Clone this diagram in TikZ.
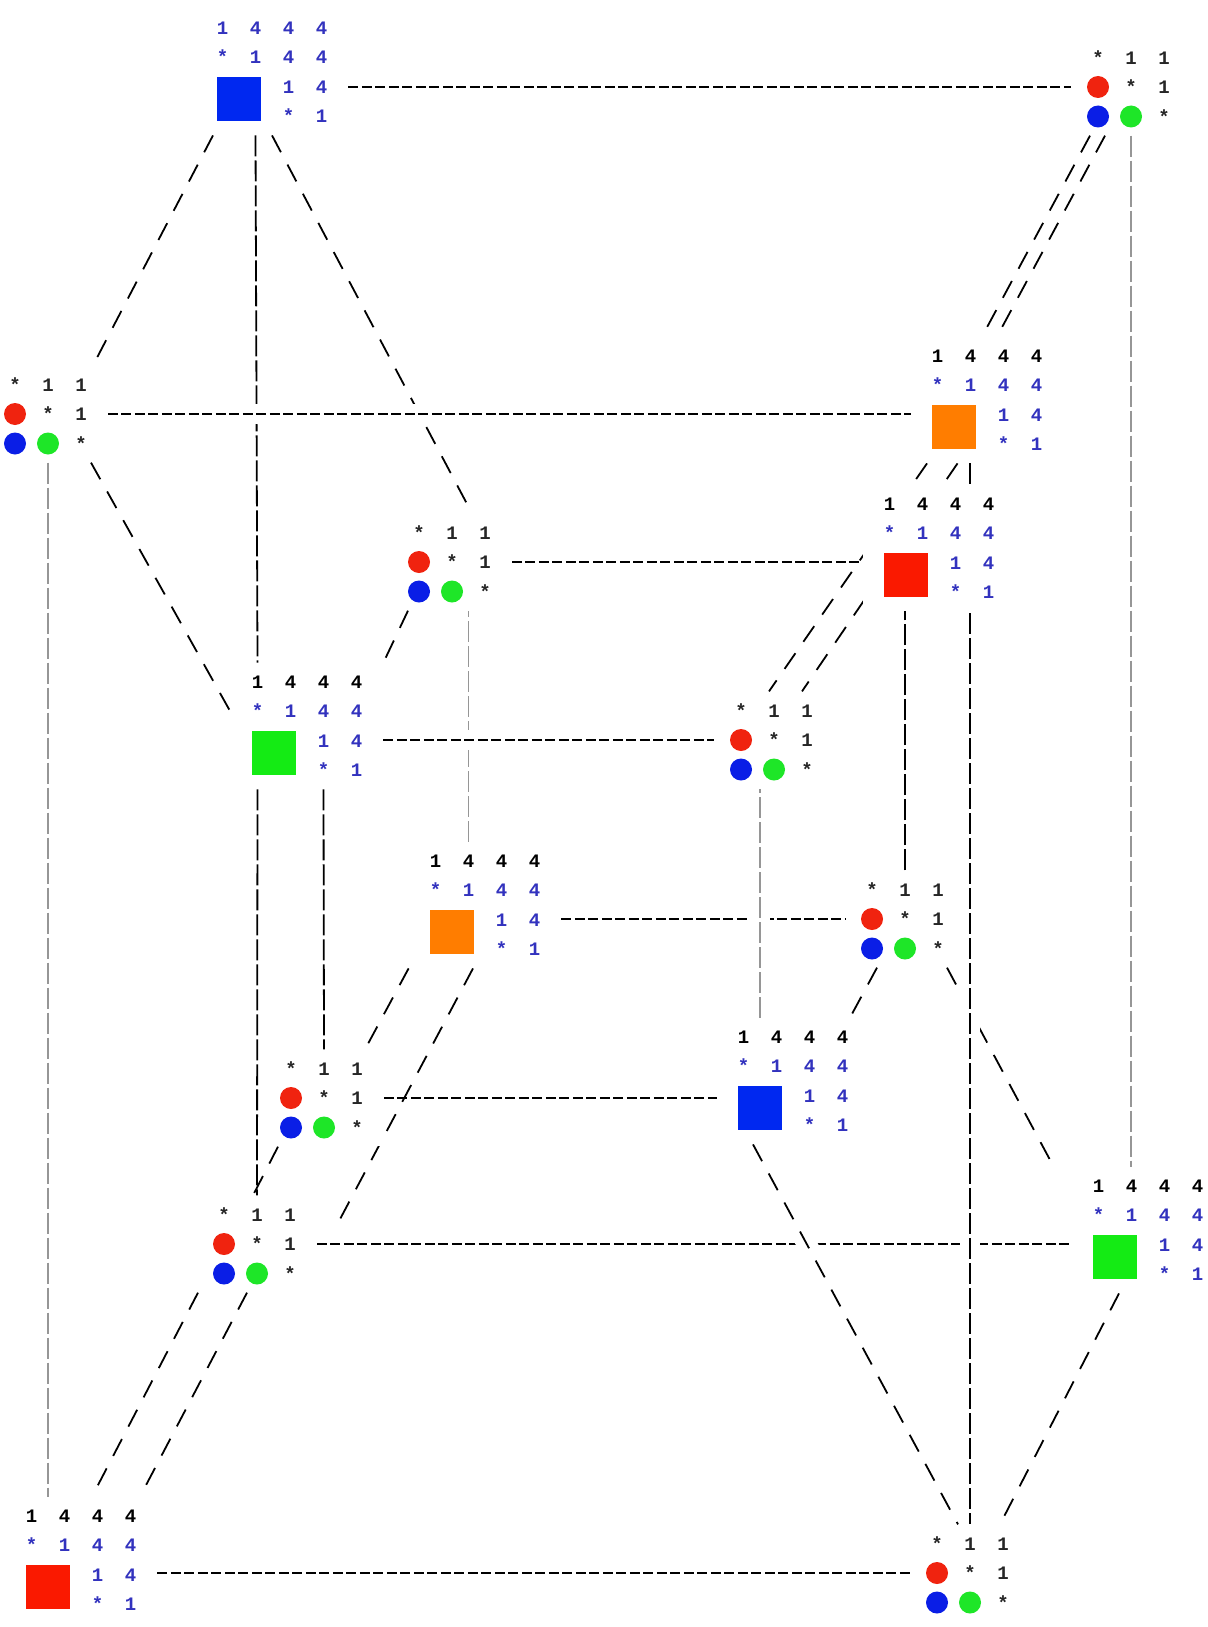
\documentclass[tikz,border=0pt]{standalone}
\usepackage{fontspec}
\setmonofont{Liberation Mono}
\usetikzlibrary{backgrounds}
\definecolor{numblue}{RGB}{50,50,190}
\definecolor{sqblue}{RGB}{0,40,240}
\definecolor{sqred}{RGB}{250,25,0}
\definecolor{sqgreen}{RGB}{20,235,20}
\definecolor{sqorange}{RGB}{255,125,0}
\definecolor{dotred}{RGB}{240,35,15}
\definecolor{dotblue}{RGB}{10,30,230}
\definecolor{dotgreen}{RGB}{30,230,40}
\definecolor{edgegray}{RGB}{150,150,150}
\newcommand\hcell[1]{\makebox[16.5pt]{#1}}
\newcommand\hcfont{\ttfamily\bfseries\fontsize{9.5}{14.75}\selectfont}
\newcommand\sqtext[1]{%
  \textcolor{#1}{\hcell{1}\hcell{4}\hcell{4}\hcell{4}}\\
  \textcolor{numblue}{\hcell{*}\hcell{1}\hcell{4}\hcell{4}}\\
  \textcolor{numblue}{\hcell{}\hcell{}\hcell{1}\hcell{4}}\\
  \textcolor{numblue}{\hcell{}\hcell{}\hcell{*}\hcell{1}}}
\newcommand\cirtext{%
  \hcell{*}\hcell{1}\hcell{1}\\
  \hcell{}\hcell{*}\hcell{1}\\
  \hcell{}\hcell{}\hcell{*}}
\tikzset{
  hc cube/.style={
    x=0.5pt,
    y=-0.5pt,
    line cap=butt
  },
  hc square/.style={
    fill=white,
    inner sep=0pt,
    minimum width=76pt,
    minimum height=63pt,
    align=left,
    font=\hcfont
  },
  hc circle/.style={
    fill=white,
    inner sep=0pt,
    minimum width=59.5pt,
    minimum height=48.25pt,
    align=left,
    font=\hcfont,
    text=black!85
  },
  hc horiz/.style={
    line width=0.9pt,
    dash pattern=on 5pt off 1.75pt
  },
  hc vert/.style={
    line width=0.9pt,
    dash pattern=on 10.5pt off 2pt
  },
  hc diag/.style={
    line width=0.9pt,
    dash pattern=on 9.5pt off 7pt
  },
  hc over/.style={
    preaction={draw=white, solid, line width=10pt}
  }
}

\begin{document}
\begin{tikzpicture}[hc cube]

  \useasboundingbox (0,0) rectangle (1207,1627);

  \foreach \n/\x/\y/\c in {S1/272/72/numblue, S2/987/400/black, S3/939/548/black,
      S4/307/726/black, S5/485/905/black, S6/793/1081/black,
      S7/1148/1230/black, S8/81/1560/black}
    \node[hc square] (\n) at (\x,\y) {\sqtext{\c}};

  \foreach \n/\x/\y in {A/1131/87, B/48/414, C/452/562, D/774/740,
      E/905/919, F/324/1098, G/257/1244, H/970/1573}
    \node[hc circle] (\n) at (\x,\y) {\cirtext};

  \foreach \n/\c in {S1/sqblue, S2/sqorange, S3/sqred, S4/sqgreen,
      S5/sqorange, S6/sqblue, S7/sqgreen, S8/sqred}
    \fill[\c] ([shift={(-54.8,5)}]\n.center) rectangle ++(43.6,43.6);

  \foreach \n in {A,B,C,D,E,F,G,H} {
    \fill[dotred] ([shift={(-33,0)}]\n.center) circle (5.5pt);
    \fill[dotblue] ([shift={(-33,29.5)}]\n.center) circle (5.5pt);
    \fill[dotgreen] ([shift={(0,29.5)}]\n.center) circle (5.5pt);
  }

  \begin{scope}[on background layer]
    \fill[white] (0,0) rectangle (1207,1627);

    \draw[hc horiz] (S1.east |- A) -- (A.west);
    \draw[hc horiz] (C.east) -- (C -| S3.west);
    \draw[hc horiz] (S5.east |- E) -- (E.west);
    \draw[hc horiz] (F.east) -- (F -| S6.west);
    \draw[hc horiz] (G.east) -- (G -| S7.west);
    \draw[hc horiz] (S8.east |- H) -- (H.west);

    \draw[hc vert] ([shift={(-16.5,0)}]S1.south) -- ([shift={(-49.5,0)}]S4.north);
    \draw[hc vert] ([shift={(-49.5,0)}]S4.south) -- (G.north);
    \draw[hc vert] ([shift={(16.5,0)}]S4.south) -- (F.north);
    \draw[hc vert] (E.north) -- (E.north |- S3.south);
    \draw[hc vert, edgegray] ([shift={(-16.5,0)}]S5.north) -- ([shift={(-16.5,0)}]S5.north |- C.south);
    \draw[hc vert, edgegray] (A.south) -- (A.south |- S7.north);
    \draw[hc vert, edgegray] (B.south) -- (B.south |- S8.north);

    \draw[hc diag] ([shift={(-59,0)}]S1.south) -- ([shift={(45,0)}]B.north);
    \draw[hc diag] (S1.south) -- ([shift={(20,0)}]C.north);
    \draw[hc diag] ([shift={(-41,0)}]A.south) -- ([shift={(-5,0)}]S2.north);
    \draw[hc diag] ([shift={(-26,0)}]A.south) -- ([shift={(10,0)}]S2.north);
    \draw[hc diag] ([shift={(43,0)}]B.south) -- ([shift={(0,-14)}]S4.west);
    \draw[hc diag] ([shift={(-44,0)}]C.south) -- (S4.north east);
    \draw[hc diag] ([shift={(-60,0)}]S2.south) -- ([shift={(-5,0)}]D.north);
    \draw[hc diag] ([shift={(-29.5,0)}]S2.south) -- ([shift={(28,0)}]D.north);
    \draw[hc diag] ([shift={(-28,0)}]E.south) -- ([shift={(57,0)}]S6.north);
    \draw[hc diag] ([shift={(42,0)}]E.south) -- ([shift={(-18,0)}]S7.north west);
    \draw[hc diag] (S5.south west) -- ([shift={(41,0)}]F.north);
    \draw[hc diag] ([shift={(-12,0)}]S5.south) -- ([shift={(20,-19)}]G.east);
    \draw[hc diag] ([shift={(-46,0)}]F.south) -- ([shift={(-4,0)}]G.north);
    \draw[hc diag] ([shift={(-59,0)}]G.south) -- ([shift={(11,0)}]S8.north);
    \draw[hc diag] ([shift={(-10,0)}]G.south) -- ([shift={(59,0)}]S8.north);
    \draw[hc diag] ([shift={(-29,0)}]S7.south) -- ([shift={(30,0)}]H.north);

    \draw[hc horiz, hc over] (B.east) -- (B -| S2.west);
    \draw[hc horiz, hc over] (S4.east |- D) -- (D.west);
    \draw[hc vert, edgegray, hc over] ([shift={(-33,0)}]S6.north) -- ([shift={(-33,0)}]S6.north |- D.south);
    \draw[hc diag, hc over] ([shift={(-40,0)}]S6.south) -- ([shift={(-12,0)}]H.north);
    \draw[hc vert, hc over] (H.north |- S2.south) -- (H.north);
  \end{scope}

\end{tikzpicture}
\end{document}
